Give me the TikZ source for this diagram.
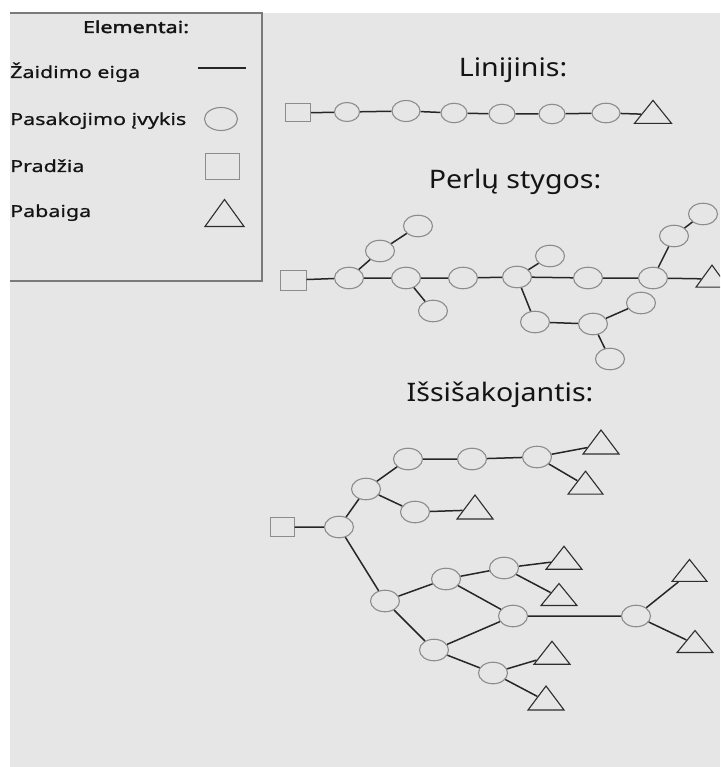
\documentclass[tikz,border=0pt]{standalone}
\usepackage{fontspec}
\setmainfont{Noto Sans}
\newfontfamily\legfont[FakeStretch=1.3, FakeBold=0.6]{Noto Sans}
\newfontfamily\legbold[FakeStretch=1.3, FakeBold=2.2]{Noto Sans}
\newfontfamily\titlefont[FakeStretch=1.12]{Noto Sans}
\usetikzlibrary{shapes.geometric}
\definecolor{bg}{HTML}{E6E6E6}
\definecolor{frame}{HTML}{7A7A7A}
\definecolor{txt}{HTML}{141414}
\definecolor{edgecol}{HTML}{262626}
\definecolor{evcol}{HTML}{8C8C8C}
\definecolor{tricol}{HTML}{2E2E2E}
\begin{document}
\begin{tikzpicture}[x=1pt,y=-1pt,
  ev/.style={ellipse, draw=evcol, line width=1.1pt, minimum width=29pt, minimum height=21.5pt, inner sep=0pt},
  evs/.style={ev, minimum width=26pt, minimum height=19.5pt},
  startsq/.style={rectangle, draw=evcol, line width=1pt, minimum width=25pt, minimum height=19pt, inner sep=0pt},
  endtri/.style={isosceles triangle, shape border rotate=90, isosceles triangle stretches, draw=tricol, line width=1.1pt, inner sep=0pt, minimum width=36pt, minimum height=23pt},
  flow/.style={draw=edgecol, line width=1.5pt},
  legtext/.style={font=\legfont\fontsize{16.5}{20}\selectfont, text=txt, inner sep=0pt, anchor=base west},
  titletext/.style={font=\titlefont\fontsize{25.5}{30}\selectfont, text=txt, inner sep=0pt, anchor=base}
]
\useasboundingbox (0,0) rectangle (720,767);
\clip (0,0) rectangle (720,767);
\fill[white] (0,0) rectangle (720,767);
\fill[bg] (10,13) rectangle (720,767);
% legend frame
\draw[frame, line width=1.3pt] (10,13) -- (262,13) -- (262,281) -- (10,281);
\node[legtext, anchor=base, font=\legbold\fontsize{16.5}{19}\selectfont] (lt) at (136,33) {Elementai:};
\node[legtext] (l1) at (10,78) {Žaidimo eiga};
\node[legtext] (l2) at (10,125) {Pasakojimo įvykis};
\node[legtext] (l3) at (10,172) {Pradžia};
\node[legtext] (l4) at (10,217) {Pabaiga};
\coordinate (la) at (198,68);
\coordinate (lb) at (246,68);
\draw[flow] (la) -- (lb);
\node[ev, minimum width=33pt, minimum height=23pt] (lc) at (221,119) {};
\node[startsq, minimum width=34pt, minimum height=26pt] (ls) at (222,167) {};
\node[endtri, minimum width=39pt, minimum height=27pt] (ltri) at (224.5,216.5) {};

% Linijinis
\node[titletext] (t1) at (513,77) {Linijinis:};
\node[startsq, minimum width=25pt, minimum height=18pt] (s1) at (298,113) {};
\node[evs, minimum width=25pt, minimum height=19pt] (c1) at (347,112) {};
\node[evs, minimum width=28pt, minimum height=21pt] (c2) at (406,111) {};
\node[evs] (c3) at (454,113) {};
\node[evs] (c4) at (502,114) {};
\node[evs] (c5) at (552,114) {};
\node[evs, minimum width=28pt] (c6) at (606,113) {};
\node[endtri, minimum width=37pt] (e1) at (653,114.5) {};
\draw[flow] (s1) -- (c1) (c1) -- (c2) (c2) -- (c3) (c3) -- (c4) (c4) -- (c5) (c5) -- (c6) (c6) -- (e1);

% Perlu stygos
\node[titletext] (t2) at (515,189) {Perlų stygos:};
\node[startsq, minimum width=26pt, minimum height=20pt] (ps) at (293,280) {};
\node[ev] (pA) at (349,278) {};
\node[ev] (pB) at (406,278) {};
\node[ev] (pC) at (463,278) {};
\node[ev] (pD) at (517,277) {};
\node[ev] (pE) at (588,278) {};
\node[ev] (pF) at (653,278) {};
\node[endtri, minimum width=32pt, minimum height=22pt] (pT) at (712,279) {};
\node[ev] (pG) at (380,251) {};
\node[ev] (pH) at (418,226) {};
\node[ev] (pI) at (433,311) {};
\node[ev] (pJ) at (550,256) {};
\node[ev] (pK) at (535,322) {};
\node[ev] (pL) at (593,324) {};
\node[ev] (pM) at (641,303) {};
\node[ev] (pN) at (610,359) {};
\node[ev] (pO) at (674,236) {};
\node[ev] (pP) at (703,214) {};
\draw[flow] (ps) -- (pA) (pA) -- (pB) (pB) -- (pC) (pC) -- (pD) (pD) -- (pE) (pE) -- (pF) (pF) -- (pT)
  (pA) -- (pG) (pG) -- (pH) (pB) -- (pI) (pD) -- (pJ) (pD) -- (pK) (pK) -- (pL)
  (pL) -- (pM) (pL) -- (pN) (pF) -- (pO) (pO) -- (pP);

% Issisakojantis
\node[titletext] (t3) at (500,401) {Išsišakojantis:};
\node[startsq, minimum width=24pt, minimum height=19pt] (bs) at (282,527) {};
\node[ev] (ba) at (339,527) {};
\node[ev] (bb) at (366,489) {};
\node[ev] (bc) at (408,459) {};
\node[ev] (bd) at (472,459) {};
\node[ev] (be) at (537,457) {};
\node[endtri, minimum height=24pt] (bt1) at (601,445) {};
\node[endtri, minimum width=35pt] (bt2) at (585.5,485.5) {};
\node[ev] (bf) at (415,512) {};
\node[endtri, minimum height=24pt] (bt3) at (475,510) {};
\node[ev] (bg) at (385,601) {};
\node[ev] (bh) at (446,579) {};
\node[ev] (bi) at (504,568) {};
\node[endtri] (bt4) at (564,560.5) {};
\node[endtri, minimum height=22pt] (bt5) at (559,597) {};
\node[ev] (bj) at (513,616) {};
\node[ev] (bk) at (636,616) {};
\node[endtri, minimum width=35pt, minimum height=22pt] (bt6) at (689.5,573) {};
\node[endtri, minimum height=22pt] (bt7) at (695,644) {};
\node[ev] (bl) at (434,650) {};
\node[ev] (bm) at (493,673) {};
\node[endtri] (bt8) at (552,655.5) {};
\node[endtri, minimum height=24pt] (bt9) at (546,701) {};
\draw[flow] (bs) -- (ba) (ba) -- (bb) (bb) -- (bc) (bc) -- (bd) (bd) -- (be)
  (be) -- (bt1) (be) -- (bt2) (bb) -- (bf) (bf) -- (bt3)
  (ba) -- (bg) (bg) -- (bh) (bh) -- (bi) (bi) -- (bt4) (bi) -- (bt5)
  (bh) -- (bj) (bg) -- (bl) (bl) -- (bj) (bj) -- (bk) (bk) -- (bt6) (bk) -- (bt7)
  (bl) -- (bm) (bm) -- (bt8) (bm) -- (bt9);
\end{tikzpicture}
\end{document}
